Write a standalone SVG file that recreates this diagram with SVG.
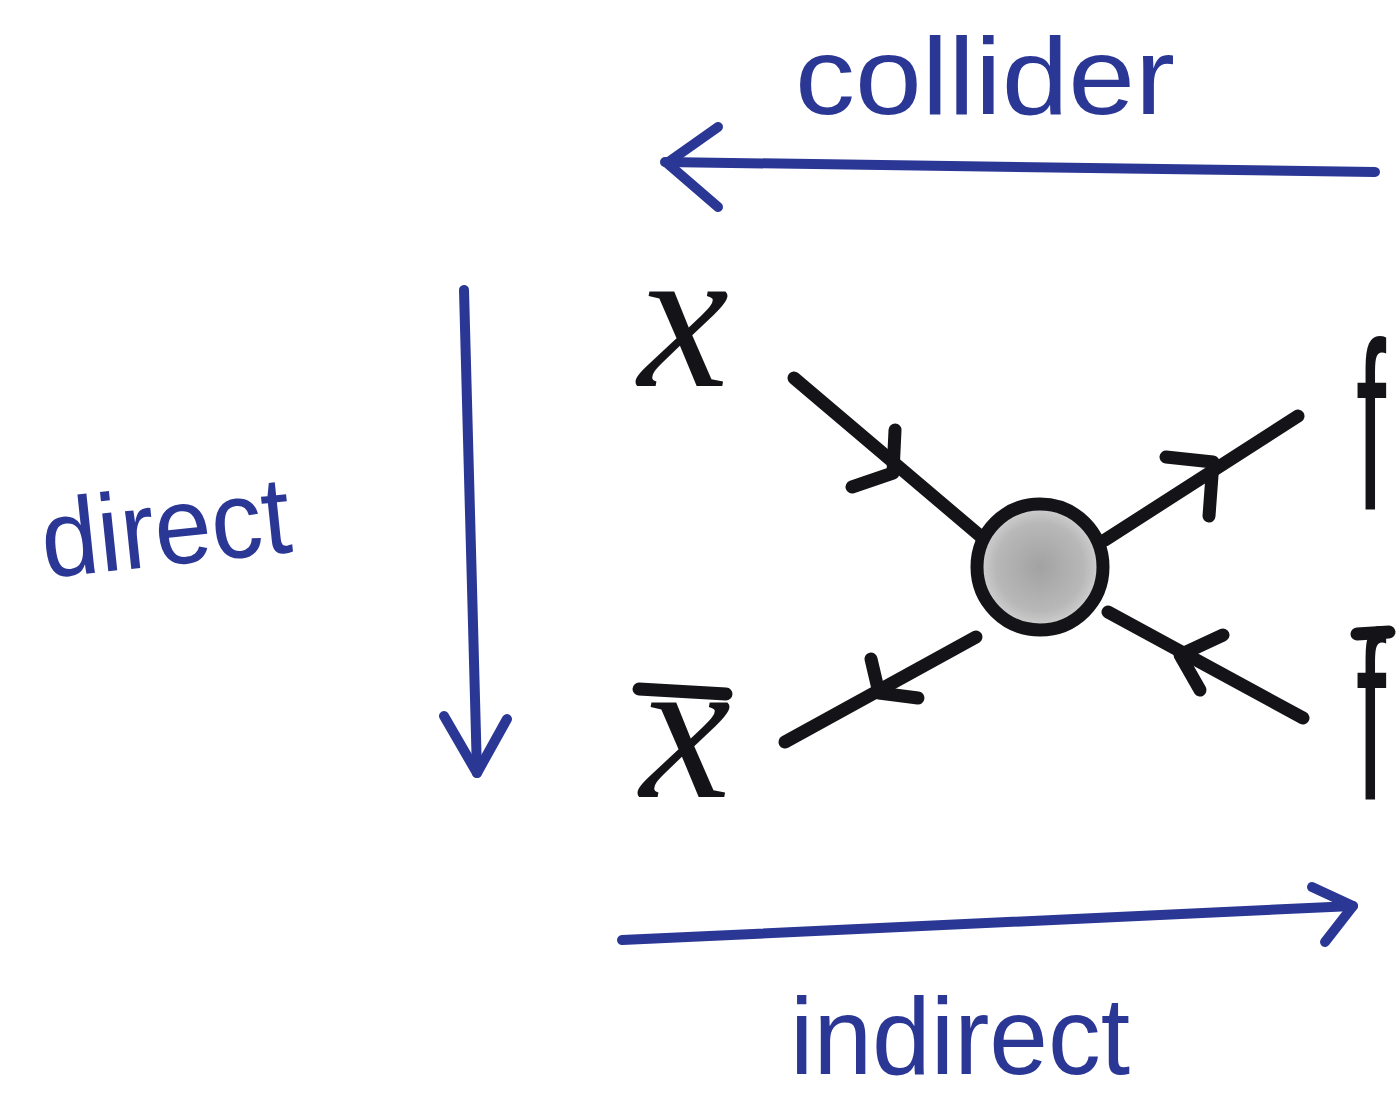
<svg xmlns="http://www.w3.org/2000/svg" width="1399" height="1098" viewBox="0 0 1399 1098">
  <defs>
    <radialGradient id="blob" cx="50%" cy="50%" r="50%">
      <stop offset="0" stop-color="#a2a2a2"/>
      <stop offset="0.7" stop-color="#b8b8b8"/>
      <stop offset="1" stop-color="#d4d4d4"/>
    </radialGradient>
  </defs>
  <style>
    .blue { fill: none; stroke: #2b3795; stroke-width: 10; stroke-linecap: round; stroke-linejoin: round; }
    .prop { fill: none; stroke: #141418; stroke-width: 13; stroke-linecap: round; stroke-linejoin: round; }
    .lbl { fill: #2b3795; font-family: "Liberation Sans", "DejaVu Sans", sans-serif; font-size: 110px; }
    .sym { fill: #141418; font-family: "Liberation Serif", "DejaVu Serif", serif; font-style: italic; font-size: 205px; }
    .symf { fill: #141418; font-family: "Liberation Sans", "DejaVu Sans", sans-serif; font-size: 240px; }
  </style>
  <rect width="1399" height="1098" fill="#ffffff"/>

  <g id="connectors">
    <!-- collider arrow (right to left) -->
    <path class="blue" d="M1375 172 L665 162"/>
    <path class="blue" d="M718 127 L667 163 L718 207"/>
    <!-- direct arrow (down) -->
    <path class="blue" d="M464 290 L477 773"/>
    <path class="blue" d="M444 716 L477 773 L507 719"/>
    <!-- indirect arrow (left to right) -->
    <path class="blue" d="M622 940 L1353 906"/>
    <path class="blue" d="M1312 887 L1353 906 L1325 942"/>
    <!-- propagators -->
    <path class="prop" d="M794 378 L985 540"/>
    <path class="prop" d="M852 487 L893 473 L895 430"/>
    <path class="prop" d="M1105 540 L1298 416"/>
    <path class="prop" d="M1166 457 L1213 462 L1209 516"/>
    <path class="prop" d="M976 637 L785 742"/>
    <path class="prop" d="M871 659 L879 693 L918 698"/>
    <path class="prop" d="M1108 612 L1303 718"/>
    <path class="prop" d="M1223 635 L1180 655 L1200 690"/>
  </g>

  <g id="vertex">
    <circle cx="1040" cy="567" r="63" fill="url(#blob)" stroke="#141418" stroke-width="13"/>
  </g>

  <g id="node-x">
    <text class="sym" x="638" y="386">x</text>
  </g>
  <g id="node-xbar">
    <path class="prop" d="M639 689 L726 694" stroke-width="8"/>
    <text class="sym" x="640" y="797">x</text>
  </g>
  <g id="node-f">
    <text class="symf" x="0" y="0" transform="translate(1356 510) scale(0.45 1)">f</text>
  </g>
  <g id="node-fbar">
    <path class="prop" d="M1357 634 L1389 632" stroke-width="9"/>
    <text class="symf" x="0" y="0" transform="translate(1356 800) scale(0.45 1)">f</text>
  </g>

  <g id="label-collider">
    <text class="lbl" x="795" y="114" textLength="380" lengthAdjust="spacingAndGlyphs">collider</text>
  </g>
  <g id="label-direct">
    <text class="lbl" x="45" y="578" textLength="250" lengthAdjust="spacingAndGlyphs" transform="rotate(-6 45 578)">direct</text>
  </g>
  <g id="label-indirect">
    <text class="lbl" x="790" y="1074" textLength="340" lengthAdjust="spacingAndGlyphs">indirect</text>
  </g>
</svg>
